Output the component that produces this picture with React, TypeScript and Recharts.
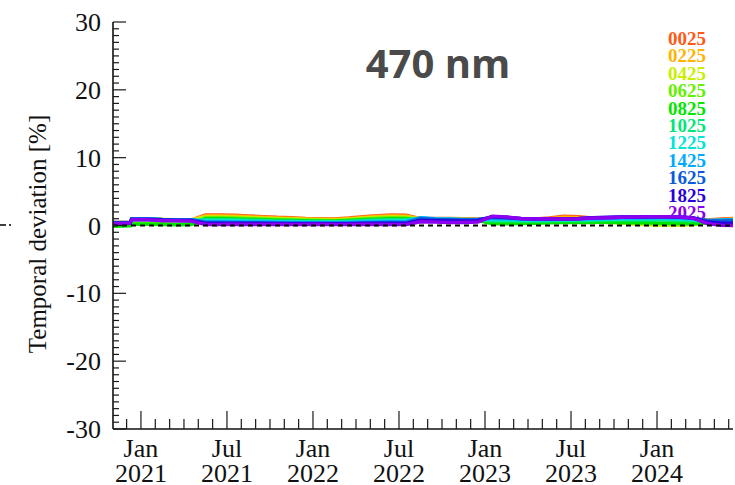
import React from "react"
import { LineChart, Line, XAxis, YAxis, ReferenceLine } from "recharts"

// x positions in months from Jan 2021
const months = [
  -1.95, -0.75, -0.65, 0.5, 1.5, 2.5, 3.5, 4.5, 5.5, 6.5, 7.5, 8.5, 9.5, 10.5, 11.5,
  12.5, 13.5, 14.5, 15.5, 16.5, 17.5, 18.5, 19.5, 20.5, 21.5, 22.5, 23.5, 24.5, 25.5,
  26.5, 27.5, 28.5, 29.5, 30.5, 31.5, 32.5, 33.5, 34.5, 35.5, 36.5, 37.5, 38.5, 39.5,
  40.5, 41.3,
]

const s0025 = [
  0.45, 0.45, 0.95, 1.0, 0.9, 0.85, 0.8,
  1.55, 1.55, 1.5, 1.4, 1.3, 1.2, 1.15, 1.05, 1.0, 0.95, 1.1, 1.3, 1.45, 1.55, 1.5,
  1.0, 1.05, 1.05, 1.0, 0.95,
  0.95, 0.95, 0.9, 0.95, 1.1, 1.35, 1.3, 1.1, 1.05, 1.1, 1.1, 1.1, 1.1, 1.05, 0.95, 0.8, 0.95, 1.05,
]
const s0225 = [
  0.45, 0.45, 0.95, 0.95, 0.9, 0.85, 0.8,
  1.41, 1.41, 1.37, 1.28, 1.19, 1.1, 1.05, 0.96, 0.92, 0.87, 1.0, 1.19, 1.32, 1.41, 1.37,
  1.0, 1.0, 1.0, 0.95, 0.9,
  0.9, 0.9, 0.85, 0.9, 1.0, 1.2, 1.15, 1.0, 1.0, 1.0, 1.0, 1.0, 1.0, 0.95, 0.85, 0.75, 0.85, 0.95,
]
const s0425 = [
  0.4, 0.4, 0.9, 0.95, 0.85, 0.8, 0.8,
  1.27, 1.27, 1.23, 1.15, 1.07, 0.99, 0.95, 0.87, 0.83, 0.79, 0.91, 1.07, 1.19, 1.27, 1.23,
  0.95, 0.95, 0.95, 0.9, 0.85,
  0.6, 0.6, 0.55, 0.6, 0.65, 0.7, 0.7, 0.6, 0.5, 0.4, 0.2, 0.1, 0.05, 0.05, 0.1, 0.45, 0.6, 0.65,
]
const s0625 = [
  0.1, 0.1, 0.3, 0.3, 0.25, 0.2, 0.25,
  1.13, 1.13, 1.1, 1.03, 0.96, 0.89, 0.85, 0.78, 0.75, 0.71, 0.82, 0.96, 1.06, 1.13, 1.1,
  0.9, 0.9, 0.9, 0.85, 0.8,
  0.45, 0.45, 0.45, 0.5, 0.5, 0.55, 0.55, 0.5, 0.45, 0.4, 0.35, 0.3, 0.25, 0.2, 0.2, 0.4, 0.55, 0.6,
]
const s0825 = [
  -0.1, -0.05, 0.2, 0.2, 0.15, 0.1, 0.15,
  0.99, 0.99, 0.96, 0.9, 0.84, 0.78, 0.75, 0.69, 0.66, 0.63, 0.72, 0.84, 0.93, 0.99, 0.96,
  0.85, 0.85, 0.8, 0.8, 0.75,
  0.25, 0.25, 0.3, 0.35, 0.4, 0.45, 0.45, 0.45, 0.5, 0.45, 0.45, 0.4, 0.35, 0.3, 0.3, 0.4, 0.5, 0.55,
]
const s1025 = [
  0.4, 0.4, 0.9, 0.9, 0.85, 0.8, 0.75,
  0.85, 0.85, 0.83, 0.78, 0.73, 0.68, 0.65, 0.6, 0.58, 0.55, 0.63, 0.73, 0.8, 0.85, 0.83,
  0.95, 0.9, 0.85, 0.8, 0.8,
  0.7, 0.7, 0.65, 0.65, 0.7, 0.75, 0.75, 0.75, 0.8, 0.8, 0.8, 0.8, 0.8, 0.75, 0.7, 0.6, 0.65, 0.7,
]
const s1225 = [
  0.4, 0.4, 0.95, 0.95, 0.85, 0.8, 0.8,
  0.71, 0.71, 0.69, 0.65, 0.61, 0.57, 0.55, 0.51, 0.49, 0.47, 0.53, 0.61, 0.67, 0.71, 0.69,
  1.1, 0.95, 0.9, 0.85, 0.85,
  0.9, 0.85, 0.8, 0.8, 0.8, 0.85, 0.85, 0.9, 0.95, 0.95, 1.0, 1.0, 1.0, 0.95, 0.9, 0.7, 0.75, 0.8,
]
const s1425 = [
  0.45, 0.45, 1.0, 1.0, 0.9, 0.85, 0.85,
  0.57, 0.57, 0.56, 0.53, 0.5, 0.47, 0.45, 0.42, 0.41, 0.39, 0.44, 0.5, 0.54, 0.57, 0.56,
  1.15, 1.0, 0.95, 0.9, 0.9,
  1.05, 1.0, 0.95, 0.9, 0.9, 0.95, 0.95, 1.0, 1.05, 1.1, 1.1, 1.15, 1.15, 1.1, 1.0, 0.75, 0.8, 0.85,
]
const s1625 = [
  0.4, 0.4, 0.95, 0.95, 0.85, 0.8, 0.8,
  0.43, 0.43, 0.42, 0.4, 0.38, 0.36, 0.35, 0.33, 0.32, 0.31, 0.34, 0.38, 0.41, 0.43, 0.42,
  1.0, 0.9, 0.85, 0.8, 0.85,
  1.2, 1.1, 1.0, 0.95, 0.95, 0.95, 1.0, 1.1, 1.15, 1.2, 1.2, 1.25, 1.25, 1.2, 1.1, 0.7, 0.65, 0.7,
]
const s1825 = [
  0.35, 0.35, 0.9, 0.9, 0.8, 0.75, 0.75,
  0.3, 0.3, 0.3, 0.29, 0.28, 0.27, 0.26, 0.25, 0.25, 0.24, 0.26, 0.28, 0.29, 0.3, 0.3,
  0.75, 0.7, 0.65, 0.65, 0.7,
  1.3, 1.2, 1.05, 1.0, 1.0, 1.0, 1.05, 1.15, 1.2, 1.25, 1.25, 1.3, 1.3, 1.25, 1.15, 0.5, 0.35, 0.35,
]
const s2025 = [
  0.3, 0.35, 0.85, 0.85, 0.7, 0.7, 0.65,
  0.15, 0.15, 0.2, 0.15, 0.15, 0.2, 0.15, 0.15, 0.2, 0.15, 0.15, 0.2, 0.15, 0.15, 0.15,
  0.55, 0.5, 0.45, 0.45, 0.5,
  1.35, 1.25, 1.05, 1.0, 1.0, 0.95, 1.0, 1.1, 1.15, 1.2, 1.25, 1.3, 1.3, 1.25, 1.1, 0.3, 0.05, 0.0,
]

const seriesNames = ["0025", "0225", "0425", "0625", "0825", "1025", "1225", "1425", "1625", "1825", "2025"]
const seriesValues = [s0025, s0225, s0425, s0625, s0825, s1025, s1225, s1425, s1625, s1825, s2025]
const seriesColors = [
  "#ff5a14", "#ffb400", "#c8f000", "#64f000", "#00e600", "#00e678",
  "#00e6d2", "#00aaff", "#0a5adc", "#2800dc", "#8c00f0",
]

// labelled x ticks
const majorTicks = [0, 6, 12, 18, 24, 30, 36]
const majorMonths = ["Jan", "Jul", "Jan", "Jul", "Jan", "Jul", "Jan"]
const majorYears = ["2021", "2021", "2022", "2022", "2023", "2023", "2024"]
const yLabels = [-30, -20, -10, 0, 10, 20, 30]

const data = months.map((m, i) => {
  const row: Record<string, number> = { m }
  seriesNames.forEach((n, k) => {
    row[n] = seriesValues[k][i]
  })
  return row
})

const monthTicks = Array.from({ length: 43 }, (_, i) => i - 1)
const yTicks = Array.from({ length: 61 }, (_, i) => i - 30)

const W = 735
const H = 485
const FONT = "'Liberation Serif', 'Times New Roman', serif"
const TICK = "#1a1a1a"

const BottomTick = (props: any) => {
  const { x, y, payload } = props
  const k = majorTicks.indexOf(payload.value)
  return (
    <g>
      <line x1={x} y1={y} x2={x} y2={y - (k >= 0 ? 18 : 10)} stroke={TICK} strokeWidth={1.2} />
      {k >= 0 && (
        <text x={x} y={y + 28} textAnchor="middle" fontFamily={FONT} fontSize={26} fill="#111">
          {majorMonths[k]}
        </text>
      )}
      {k >= 0 && (
        <text x={x} y={y + 53} textAnchor="middle" fontFamily={FONT} fontSize={26} fill="#111">
          {majorYears[k]}
        </text>
      )}
    </g>
  )
}

const TopTick = (props: any) => {
  const { x, y, payload } = props
  const major = majorTicks.includes(payload.value)
  return <line x1={x} y1={y} x2={x} y2={y + (major ? 18 : 10)} stroke={TICK} strokeWidth={1.2} />
}

const LeftTick = (props: any) => {
  const { x, y, payload } = props
  const major = yLabels.includes(payload.value)
  return (
    <g>
      <line x1={x} y1={y} x2={x + (major ? 13 : 6)} y2={y} stroke={TICK} strokeWidth={1.2} />
      {major && (
        <text x={x - 12} y={y} dy="0.35em" textAnchor="end" fontFamily={FONT} fontSize={26} fill="#111">
          {payload.value}
        </text>
      )}
    </g>
  )
}

const RightTick = (props: any) => {
  const { x, y, payload } = props
  const major = yLabels.includes(payload.value)
  return <line x1={x} y1={y} x2={x - (major ? 11 : 5)} y2={y} stroke={TICK} strokeWidth={1.2} />
}

export default function App() {
  return (
    <div style={{ position: "absolute", left: 0, top: 0, width: W, height: H, background: "#fff" }}>
      <svg width={W} height={H} style={{ position: "absolute", left: 0, top: 0 }}>
        <text
          x={438}
          y={78}
          textAnchor="middle"
          fontFamily="'Open Sans', sans-serif"
          fontWeight={700}
          fontSize={40}
          fill="#4a4a4a"
        >
          470 nm
        </text>
        <text
          transform="translate(46,234) rotate(-90)"
          textAnchor="middle"
          fontFamily={FONT}
          fontSize={25}
          fill="#111"
        >
          Temporal deviation [%]
        </text>
        {seriesNames.map((n, k) => (
          <text
            key={n}
            x={706}
            y={45 + k * 17.4}
            textAnchor="end"
            fontFamily={FONT}
            fontWeight={700}
            fontSize={19}
            fill={seriesColors[k]}
          >
            {n}
          </text>
        ))}
        <line x1={0} y1={225} x2={11} y2={225} stroke="#000" strokeWidth={1.5} strokeDasharray="6 3" />
      </svg>
      <div style={{ position: "absolute", left: 0, top: 0 }}>
        <LineChart width={W} height={H} data={data} margin={{ top: 22, right: 2, bottom: 0, left: 0 }}>
          <XAxis
            dataKey="m"
            type="number"
            domain={[-1.95, 41.3]}
            allowDataOverflow
            ticks={monthTicks}
            interval={0}
            tick={<BottomTick />}
            tickLine={false}
            tickSize={0}
            tickMargin={0}
            height={56}
            axisLine={{ stroke: "#111", strokeWidth: 1.6 }}
          />
          <XAxis
            xAxisId="top"
            orientation="top"
            dataKey="m"
            type="number"
            domain={[-1.95, 41.3]}
            allowDataOverflow
            ticks={monthTicks}
            interval={0}
            tick={<TopTick />}
            tickLine={false}
            tickSize={0}
            tickMargin={0}
            height={0}
            axisLine={{ stroke: "#111", strokeWidth: 1.6 }}
          />
          <YAxis
            type="number"
            domain={[-30, 30]}
            allowDataOverflow
            ticks={yTicks}
            interval={0}
            tick={<LeftTick />}
            tickLine={false}
            tickSize={0}
            tickMargin={0}
            width={113}
            axisLine={{ stroke: "#111", strokeWidth: 1.6 }}
          />
          <YAxis
            yAxisId="right"
            orientation="right"
            type="number"
            domain={[-30, 30]}
            allowDataOverflow
            ticks={yTicks}
            interval={0}
            tick={<RightTick />}
            tickLine={false}
            tickSize={0}
            tickMargin={0}
            width={0}
            axisLine={{ stroke: "#111", strokeWidth: 1.6 }}
          />
          {seriesNames.map((n, k) => (
            <Line
              key={n}
              dataKey={n}
              type="linear"
              stroke={seriesColors[k]}
              strokeWidth={3.5}
              dot={false}
              isAnimationActive={false}
            />
          ))}
          <ReferenceLine y={0} stroke="#000" strokeWidth={1.8} strokeDasharray="5 4" />
        </LineChart>
      </div>
    </div>
  )
}
